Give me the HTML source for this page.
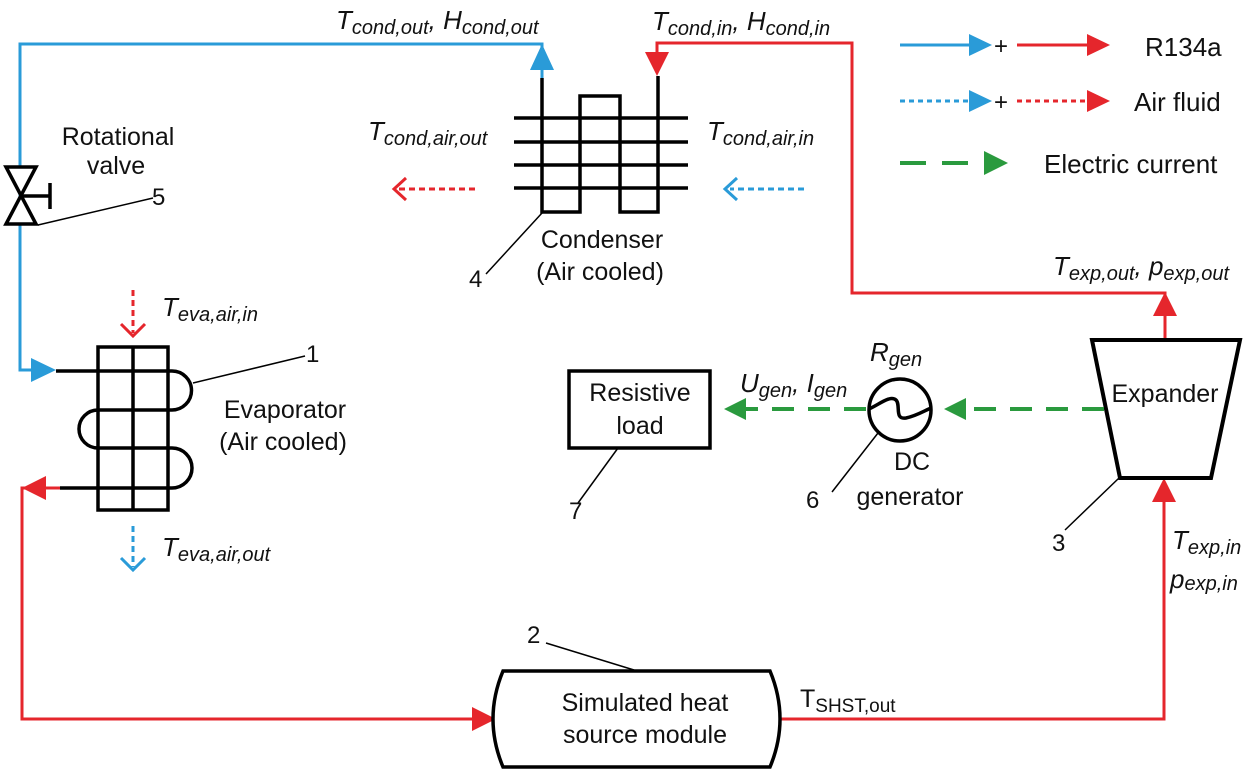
<!DOCTYPE html>
<html><head><meta charset="utf-8"><style>
html,body{margin:0;padding:0;background:#fff;}
svg{display:block;}
text{font-family:"Liberation Sans",sans-serif;fill:#111;}
.i{font-style:italic;font-size:26px;}
.i tspan.s{font-size:20px;}
.c{text-anchor:middle;font-size:25px;}
</style></head><body>
<svg width="1250" height="773" viewBox="0 0 1250 773" xmlns="http://www.w3.org/2000/svg">
<g fill="none" stroke-linejoin="miter">
<polyline points="542,78 542,44 20,44 20,370 40,370" stroke="#2a9bd8" stroke-width="3"/>
<polygon points="542,44 530,70 554,70" fill="#2a9bd8" stroke="none"/>
<polygon points="56,370 31,358 31,382" fill="#2a9bd8" stroke="none"/>
<polyline points="1165,340 1165,293 852,293 852,43 657,43 657,60" stroke="#e5262c" stroke-width="3"/>
<polygon points="657,76 645,52 669,52" fill="#e5262c" stroke="none"/>
<polygon points="1165,292 1153,316 1177,316" fill="#e5262c" stroke="none"/>
<polyline points="60,488 22,488 22,719 480,719" stroke="#e5262c" stroke-width="3"/>
<polygon points="22,488 46,476 46,500" fill="#e5262c" stroke="none"/>
<polygon points="496,719 472,707 472,731" fill="#e5262c" stroke="none"/>
<polyline points="780,719 1164,719 1164,495" stroke="#e5262c" stroke-width="3"/>
<polygon points="1164,478 1152,502 1176,502" fill="#e5262c" stroke="none"/>

<polygon points="6,167 36,167 6,224 36,224" fill="#fff" stroke="#000" stroke-width="3.5"/>
<line x1="21" y1="196" x2="50" y2="196" stroke="#000" stroke-width="3.5"/>
<line x1="50" y1="183" x2="50" y2="209" stroke="#000" stroke-width="3.5"/>
<line x1="38" y1="225" x2="153" y2="198" stroke="#000" stroke-width="1.5"/>

<polyline points="542,78 542,212 580,212 580,96 620,96 620,212 658,212 658,76" stroke="#000" stroke-width="3.5"/>
<g stroke="#000" stroke-width="3.5">
<line x1="514" y1="118" x2="688" y2="118"/><line x1="514" y1="142" x2="688" y2="142"/>
<line x1="514" y1="165" x2="688" y2="165"/><line x1="514" y1="188" x2="688" y2="188"/>
</g>
<line x1="542" y1="213" x2="486" y2="274" stroke="#000" stroke-width="1.5"/>
<line x1="475" y1="189" x2="398" y2="189" stroke="#e5262c" stroke-width="3" stroke-dasharray="6,4"/>
<polyline points="406,178 394,189 406,200" stroke="#e5262c" stroke-width="3"/>
<line x1="804" y1="189" x2="730" y2="189" stroke="#2a9bd8" stroke-width="3" stroke-dasharray="6,4"/>
<polyline points="737,178 725,189 737,200" stroke="#2a9bd8" stroke-width="3"/>

<rect x="98" y="347" width="70" height="163" stroke="#000" stroke-width="3.5"/>
<line x1="133" y1="347" x2="133" y2="510" stroke="#000" stroke-width="3.5"/>
<path d="M56,371 L172,371 A19,19 0 0 1 172,410 L98,410 A19,19 0 0 0 98,448 L172,448 A20,20 0 0 1 172,488 L60,488" stroke="#000" stroke-width="3.5"/>
<line x1="193" y1="383" x2="305" y2="356" stroke="#000" stroke-width="1.5"/>
<line x1="133" y1="290" x2="133" y2="333" stroke="#e5262c" stroke-width="3" stroke-dasharray="6,4"/>
<polyline points="121,324 133,336 145,324" stroke="#e5262c" stroke-width="3"/>
<line x1="133" y1="526" x2="133" y2="567" stroke="#2a9bd8" stroke-width="3" stroke-dasharray="6,4"/>
<polyline points="121,558 133,570 145,558" stroke="#2a9bd8" stroke-width="3"/>

<path d="M503,671 L770,671 Q790,719 770,767 L503,767 Q483,719 503,671 Z" stroke="#000" stroke-width="3.5" fill="#fff"/>
<line x1="634" y1="670" x2="546" y2="643" stroke="#000" stroke-width="1.5"/>

<polygon points="1092,340 1240,340 1211,478 1120,478" stroke="#000" stroke-width="4" fill="#fff"/>
<line x1="1119" y1="478" x2="1065" y2="530" stroke="#000" stroke-width="1.5"/>

<line x1="1104" y1="409" x2="960" y2="409" stroke="#2a9a3e" stroke-width="4" stroke-dasharray="22,14"/>
<polygon points="944,409 966,398 966,420" fill="#2a9a3e"/>
<line x1="866" y1="409" x2="742" y2="409" stroke="#2a9a3e" stroke-width="4" stroke-dasharray="22,14"/>
<polygon points="724,409 746,398 746,420" fill="#2a9a3e"/>
<circle cx="900" cy="410" r="31" stroke="#000" stroke-width="3.5" fill="none"/>
<path d="M869,409 C880,404 890,395 896,400 C901,405 894,420 906,418 C916,416 924,411 931,408" stroke="#000" stroke-width="3.5" fill="none"/>
<line x1="878" y1="433" x2="832" y2="492" stroke="#000" stroke-width="1.5"/>
<rect x="569" y="371" width="141" height="77" stroke="#000" stroke-width="3.5" fill="#fff"/>
<line x1="618" y1="448" x2="578" y2="503" stroke="#000" stroke-width="1.5"/>

<line x1="900" y1="45" x2="975" y2="45" stroke="#2a9bd8" stroke-width="3"/>
<polygon points="992,45 969,34 969,56" fill="#2a9bd8"/>
<line x1="1017" y1="45" x2="1090" y2="45" stroke="#e5262c" stroke-width="3"/>
<polygon points="1110,45 1087,34 1087,56" fill="#e5262c"/>
<line x1="900" y1="101" x2="972" y2="101" stroke="#2a9bd8" stroke-width="3" stroke-dasharray="5,4"/>
<polygon points="992,101 969,90 969,112" fill="#2a9bd8"/>
<line x1="1017" y1="101" x2="1088" y2="101" stroke="#e5262c" stroke-width="3" stroke-dasharray="5,4"/>
<polygon points="1110,101 1087,90 1087,112" fill="#e5262c"/>
<line x1="900" y1="163" x2="990" y2="163" stroke="#2a9a3e" stroke-width="4" stroke-dasharray="26,16"/>
<polygon points="1008,163 984,151 984,175" fill="#2a9a3e"/>
</g>

<text x="994" y="54" font-size="24">+</text>
<text x="994" y="110" font-size="24">+</text>
<text x="1145" y="56" font-size="26">R134a</text>
<text x="1134" y="111" font-size="26">Air fluid</text>
<text x="1044" y="173" font-size="26">Electric current</text>

<text x="118" y="145" class="c">Rotational</text>
<text x="116" y="174" class="c">valve</text>
<text x="152" y="205" font-size="24">5</text>
<text x="602" y="248" class="c">Condenser</text>
<text x="600" y="280" class="c">(Air cooled)</text>
<text x="469" y="287" font-size="24">4</text>
<text x="285" y="418" class="c">Evaporator</text>
<text x="283" y="450" class="c">(Air cooled)</text>
<text x="306" y="362" font-size="24">1</text>
<text x="527" y="643" font-size="24">2</text>
<text x="645" y="711" class="c">Simulated heat</text>
<text x="645" y="743" class="c">source module</text>
<text x="1165" y="402" class="c">Expander</text>
<text x="1052" y="551" font-size="24">3</text>
<text x="640" y="401" class="c">Resistive</text>
<text x="640" y="434" class="c">load</text>
<text x="569" y="519" font-size="24">7</text>
<text x="912" y="470" class="c">DC</text>
<text x="910" y="505" class="c">generator</text>
<text x="806" y="508" font-size="24">6</text>

<text x="336" y="29" class="i">T<tspan class="s" dy="5">cond,out</tspan><tspan dy="-5">, H</tspan><tspan class="s" dy="5">cond,out</tspan></text>
<text x="652" y="30" class="i">T<tspan class="s" dy="5">cond,in</tspan><tspan dy="-5">, H</tspan><tspan class="s" dy="5">cond,in</tspan></text>
<text x="368" y="140" class="i">T<tspan class="s" dy="5">cond,air,out</tspan></text>
<text x="707" y="140" class="i">T<tspan class="s" dy="5">cond,air,in</tspan></text>
<text x="162" y="316" class="i">T<tspan class="s" dy="5">eva,air,in</tspan></text>
<text x="162" y="556" class="i">T<tspan class="s" dy="5">eva,air,out</tspan></text>
<text x="1053" y="275" class="i">T<tspan class="s" dy="5">exp,out</tspan><tspan dy="-5">, p</tspan><tspan class="s" dy="5">exp,out</tspan></text>
<text x="1172" y="549" class="i">T<tspan class="s" dy="5">exp,in</tspan></text>
<text x="1170" y="588" class="i">p<tspan class="s" dy="2">exp,in</tspan></text>
<text x="870" y="361" class="i">R<tspan class="s" dy="5">gen</tspan></text>
<text x="740" y="392" class="i">U<tspan class="s" dy="5">gen</tspan><tspan dy="-5">, I</tspan><tspan class="s" dy="5">gen</tspan></text>
<text x="800" y="707" font-size="25">T<tspan font-size="19" dy="5">SHST,out</tspan></text>
</svg>
</body></html>
